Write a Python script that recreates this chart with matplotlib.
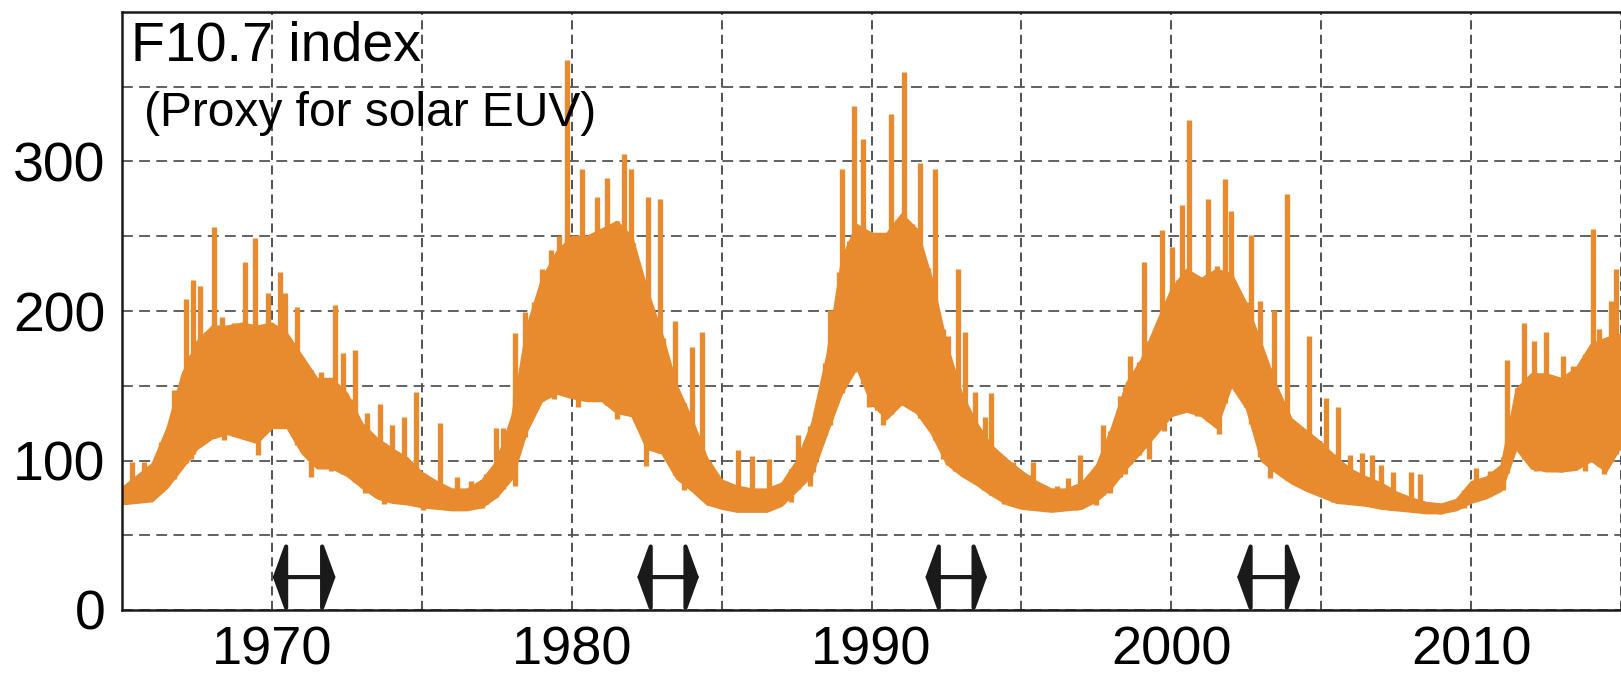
"""F10.7 solar radio flux index, 1965-2015, with declining-phase markers."""

import numpy as np
import matplotlib
matplotlib.use('Agg')
import matplotlib.pyplot as plt
from matplotlib.ticker import MultipleLocator

# Half-yearly core band of the daily index (bottom and top of the dense part)
years = [1965.0, 1965.5, 1966.0, 1966.5, 1967.0, 1967.5, 1968.0, 1968.5, 1969.0, 1969.5,
         1970.0, 1970.5, 1971.0, 1971.5, 1972.0, 1972.5, 1973.0, 1973.5, 1974.0, 1974.5,
         1975.0, 1975.5, 1976.0, 1976.5, 1977.0, 1977.5, 1978.0, 1978.5, 1979.0, 1979.5,
         1980.0, 1980.5, 1981.0, 1981.5, 1982.0, 1982.5, 1983.0, 1983.5, 1984.0, 1984.5,
         1985.0, 1985.5, 1986.0, 1986.5, 1987.0, 1987.5, 1988.0, 1988.5, 1989.0, 1989.5,
         1990.0, 1990.5, 1991.0, 1991.5, 1992.0, 1992.5, 1993.0, 1993.5, 1994.0, 1994.5,
         1995.0, 1995.5, 1996.0, 1996.5, 1997.0, 1997.5, 1998.0, 1998.5, 1999.0, 1999.5,
         2000.0, 2000.5, 2001.0, 2001.5, 2002.0, 2002.5, 2003.0, 2003.5, 2004.0, 2004.5,
         2005.0, 2005.5, 2006.0, 2006.5, 2007.0, 2007.5, 2008.0, 2008.5, 2009.0, 2009.5,
         2010.0, 2010.5, 2011.0, 2011.5, 2012.0, 2012.5, 2013.0, 2013.5, 2014.0, 2014.5,
         2015.0]
core_low = [71, 72, 73, 82, 95, 108, 115, 118, 115, 112,
            122, 122, 105, 95, 95, 90, 82, 75, 72, 71,
            69, 68, 67, 67, 69, 76, 88, 120, 140, 145,
            142, 140, 140, 132, 130, 108, 105, 88, 80, 71,
            68, 66, 66, 66, 70, 80, 90, 118, 145, 162,
            138, 128, 138, 132, 118, 98, 90, 84, 77, 71,
            68, 67, 66, 67, 68, 73, 82, 95, 106, 118,
            130, 133, 130, 122, 150, 135, 100, 92, 85, 80,
            76, 72, 71, 70, 68, 67, 66, 65, 65, 67,
            72, 75, 80, 108, 95, 93, 93, 94, 100, 93,
            110]
core_high = [82, 90, 98, 122, 158, 180, 190, 190, 192, 190,
             192, 185, 170, 155, 155, 145, 125, 115, 108, 102,
             92, 86, 81, 81, 87, 100, 130, 190, 222, 240,
             250, 250, 255, 260, 250, 215, 185, 150, 128, 102,
             87, 83, 81, 81, 85, 100, 125, 170, 235, 258,
             252, 252, 265, 255, 222, 178, 145, 125, 110, 101,
             93, 86, 81, 81, 85, 97, 122, 152, 168, 192,
             215, 228, 222, 228, 225, 205, 178, 150, 128, 120,
             112, 102, 94, 89, 85, 79, 75, 72, 71, 74,
             86, 89, 97, 148, 158, 158, 155, 162, 178, 182,
             185]

# Daily peaks rising above the core band
peak_years = [1965.35, 1965.75, 1966.72, 1967.12, 1967.37, 1967.6, 1968.06, 1968.33,
              1968.74, 1969.09, 1969.42, 1969.87, 1970.27, 1970.43, 1970.84, 1971.24,
              1971.65, 1972.1, 1972.37, 1972.78, 1973.18, 1973.59, 1974.0, 1974.39,
              1974.8, 1975.12, 1975.6, 1976.17, 1976.65, 1977.14, 1977.46, 1977.7,
              1978.1, 1978.43, 1979.0, 1979.32, 1979.56, 1979.85, 1980.34, 1980.85,
              1981.18, 1981.74, 1981.99, 1982.55, 1982.96, 1983.44, 1984.0, 1984.33,
              1985.54, 1986.02, 1986.59, 1987.56, 1988.04, 1988.61, 1989.01, 1989.42,
              1989.72, 1990.2, 1990.66, 1991.09, 1991.63, 1992.11, 1992.55, 1992.87,
              1993.11, 1993.44, 1993.79, 1994.0, 1994.41, 1994.73, 1995.38, 1996.18,
              1996.54, 1996.96, 1997.4, 1997.72, 1997.96, 1998.28, 1998.61, 1999.09,
              1999.7, 2000.03, 2000.35, 2000.58, 2001.22, 2001.51, 2001.79, 2002.0,
              2002.65, 2002.97, 2003.42, 2003.86, 2004.58, 2005.15, 2005.55, 2005.96,
              2006.36, 2006.69, 2007.0, 2007.41, 2007.98, 2008.3, 2010.16, 2010.64,
              2011.21, 2011.77, 2012.1, 2012.5, 2013.07, 2013.39, 2014.08, 2014.28,
              2014.68, 2014.84]
peak_values = [99, 99, 147, 208, 221, 217, 256, 196,
               192, 233, 249, 212, 226, 212, 203, 143,
               159, 204, 172, 174, 132, 138, 124, 129,
               146, 91, 125, 89, 86, 91, 122, 122,
               185, 199, 228, 241, 250, 368, 295, 276,
               289, 305, 295, 276, 275, 193, 176, 186,
               107, 103, 101, 117, 124, 201, 295, 337,
               315, 251, 332, 360, 299, 295, 183, 228,
               186, 146, 129, 145, 100, 99, 99, 83,
               88, 104, 88, 124, 117, 143, 170, 233,
               254, 243, 271, 328, 275, 230, 288, 267,
               251, 207, 201, 278, 183, 142, 136, 104,
               105, 104, 97, 92, 92, 91, 95, 93,
               167, 192, 180, 186, 170, 163, 255, 188,
               207, 228]

# Daily minima dipping below the core band
dip_years = [1966.3, 1967.29, 1967.8, 1968.4, 1968.74, 1969.55, 1970.2, 1970.76,
             1971.32, 1971.97, 1972.6, 1973.1, 1973.75, 1975.04, 1976.0, 1977.0,
             1977.62, 1978.1, 1978.75, 1979.4, 1980.2, 1980.85, 1981.5, 1982.06,
             1982.47, 1983.04, 1983.76, 1984.57, 1985.54, 1986.5, 1987.32, 1987.96,
             1988.45, 1988.93, 1989.26, 1989.9, 1990.37, 1990.85, 1991.34, 1991.9,
             1992.39, 1992.79, 1993.44, 1993.76, 1994.41, 1995.21, 1996.02, 1996.83,
             1997.48, 1997.96, 1998.45, 1998.93, 1999.25, 1999.74, 2000.22, 2000.87,
             2001.6, 2001.92, 2002.48, 2003.29, 2003.78, 2004.58, 2005.39, 2006.52,
             2007.33, 2008.14, 2008.95, 2009.75, 2010.4, 2011.05, 2011.53, 2012.18,
             2012.99, 2013.79, 2014.44, 2014.76]
dip_values = [79, 101, 114, 114, 122, 104, 128, 120,
              89, 93, 89, 78, 71, 67, 67, 68,
              83, 83, 141, 141, 136, 141, 128, 130,
              96, 112, 80, 70, 66, 66, 72, 83,
              117, 143, 170, 136, 124, 138, 136, 129,
              101, 93, 86, 80, 71, 68, 66, 67,
              70, 78, 91, 104, 101, 120, 133, 130,
              118, 164, 136, 88, 96, 80, 72, 70,
              67, 66, 64, 68, 75, 80, 109, 93,
              92, 93, 91, 112]

# Double arrows marking the declining phases (start and end years)
arrow_starts = [1970.03, 1982.19, 1991.8, 2002.2]
arrow_ends = [1972.12, 1984.24, 1993.85, 2004.3]
arrow_level = 22

orange = '#E88A2E'

plt.rcParams['font.family'] = ['Liberation Sans', 'DejaVu Sans']

fig = plt.figure(figsize=(16.21, 6.78), dpi=100)
ax = fig.add_axes([122 / 1621, 68 / 678, 1499 / 1621, 598 / 678])

# core band, then the peaks and dips as vertical strokes
ax.fill_between(years, core_low, core_high, color=orange, lw=1.5,
                edgecolor=orange, zorder=2)
peak_base = np.interp(peak_years, years, core_low)
ax.vlines(peak_years, peak_base, peak_values, color=orange, lw=3.8, zorder=2)
dip_top = np.interp(dip_years, years, core_high)
ax.vlines(dip_years, dip_values, dip_top, color=orange, lw=3.8, zorder=2)

for x0, x1 in zip(arrow_starts, arrow_ends):
    ax.annotate('', xy=(x1, arrow_level), xytext=(x0, arrow_level),
                arrowprops=dict(arrowstyle='<|-|>,head_length=0.8,head_width=2.2',
                                mutation_scale=10, lw=3, color='#1a1a1a',
                                shrinkA=0, shrinkB=0), zorder=3)

ax.set_xlim(1965, 2015)
ax.set_ylim(0, 400)
ax.xaxis.set_major_locator(MultipleLocator(10))
ax.xaxis.set_minor_locator(MultipleLocator(5))
ax.set_yticks([0, 100, 200, 300])
ax.yaxis.set_minor_locator(MultipleLocator(50))

ax.grid(which='both', axis='x', color='#222222', linestyle=(0, (6, 3.5)), lw=1.1)
ax.grid(which='both', axis='y', color='#555555', linestyle=(0, (6, 3.5)), lw=1.3)
ax.set_axisbelow(True)

ax.tick_params(which='both', length=0)
ax.tick_params(axis='y', labelsize=40, pad=12)
ax.tick_params(axis='x', labelsize=39, pad=11)

for side in ['left', 'bottom', 'top']:
    ax.spines[side].set_linewidth(1.8)
    ax.spines[side].set_color('#1a1a1a')
ax.spines['right'].set_visible(False)

ax.text(0.006, 0.9197, 'F10.7 index', transform=ax.transAxes, fontsize=40,
        va='baseline', ha='left')
ax.text(0.0145, 0.809, '(Proxy for solar EUV)', transform=ax.transAxes,
        fontsize=34.5, va='baseline', ha='left')

plt.savefig('out.png', dpi=100)
print("Saved: out.png")
